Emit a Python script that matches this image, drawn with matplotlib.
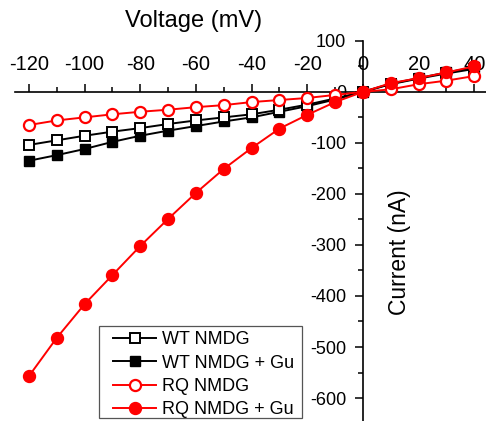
import matplotlib
matplotlib.use("Agg")
import matplotlib.pyplot as plt
from matplotlib.patches import Rectangle
from matplotlib.ticker import FixedLocator

plt.rcParams["font.family"] = ["Liberation Sans", "DejaVu Sans"]

# ── Data ────────────────────────────────────────────────────────────────────
voltage = [-120, -110, -100, -90, -80, -70, -60, -50, -40, -30, -20, -10, 0, 10, 20, 30, 40]
wt_nmdg = [-104, -95, -86, -78, -71, -63, -56, -50, -44, -35, -25, -13, 0, 15, 26, 36, 45]
wt_nmdg_gu = [-135, -124, -112, -98, -86, -76, -67, -58, -50, -39, -28, -15, 0, 16, 27, 38, 48]
rq_nmdg = [-65, -56, -50, -44, -39, -35, -30, -26, -20, -16, -12, -6, 0, 5, 15, 22, 31]
rq_nmdg_gu = [-557, -482, -416, -359, -302, -249, -198, -151, -110, -72, -45, -20, 0, 17, 27, 38, 50]

x_ticks = [-120, -100, -80, -60, -40, -20, 0, 20, 40]
x_minor = [-110, -90, -70, -50, -30, -10, 10, 30]
y_ticks = [100, 0, -100, -200, -300, -400, -500, -600]
y_minor = [50, -50, -150, -250, -350, -450, -550]

W, H = 486, 421
fig = plt.figure(figsize=(W / 100, H / 100), dpi=100)
ax = fig.add_axes([0, 0, 1, 1])
ax.set_xlim(-130.4, 44.2)
ax.set_ylim(-645, 180)

lw = 1.4
ax.plot(voltage, wt_nmdg_gu, color="black", lw=lw, marker="s", ms=7.5,
        mfc="black", mec="black", label="WT NMDG + Gu", zorder=3)
ax.plot(voltage, wt_nmdg, color="black", lw=lw, marker="s", ms=7.5,
        mfc="white", mec="black", mew=1.4, label="WT NMDG", zorder=4)
ax.plot(voltage, rq_nmdg, color="red", lw=lw, marker="o", ms=8,
        mfc="white", mec="red", mew=1.6, label="RQ NMDG", zorder=5)
ax.plot(voltage, rq_nmdg_gu, color="red", lw=lw, marker="o", ms=8.6,
        mfc="red", mec="red", label="RQ NMDG + Gu", zorder=6)

# axes crossing at the origin
for s in ["bottom", "right"]:
    ax.spines[s].set_visible(False)
ax.spines["top"].set_position(("data", 0))
ax.spines["left"].set_position(("data", 0))
ax.spines["top"].set_bounds(-125, 45)
ax.spines["left"].set_bounds(-645, 100)
for s in ["top", "left"]:
    ax.spines[s].set_linewidth(1.2)
    ax.spines[s].set_zorder(2)

ax.xaxis.set_ticks_position("top")
ax.set_xticks(x_ticks)
ax.set_xticklabels([str(v) for v in x_ticks])
ax.xaxis.set_minor_locator(FixedLocator(x_minor))
ax.set_yticks(y_ticks)
ax.set_yticklabels([str(v) for v in y_ticks])
ax.yaxis.set_minor_locator(FixedLocator(y_minor))
ax.tick_params(axis="x", which="major", direction="out", length=6, width=1.1,
               pad=7, labelsize=14.5)
ax.tick_params(axis="x", which="minor", direction="out", length=3.5, width=1.1)
ax.tick_params(axis="y", which="major", direction="out", length=6, width=1.1,
               pad=6, labelsize=13)
ax.tick_params(axis="y", which="minor", direction="out", length=3.5, width=1.1)

fig.text(194 / W, 1 - 21 / H, "Voltage (mV)", ha="center", va="center", fontsize=17)
fig.text(399 / W, 1 - 252 / H, "Current (nA)", ha="center", va="center",
         rotation=90, fontsize=16.5)

# legend: box drawn separately so the padding matches the original
box = Rectangle((99 / W, 3 / H), 203 / W, 92 / H, transform=fig.transFigure,
                facecolor="white", edgecolor="#555555", lw=0.9, zorder=9,
                clip_on=False)
ax.add_patch(box)
handles, labels = ax.get_legend_handles_labels()
order = [1, 0, 2, 3]
leg = ax.legend([handles[i] for i in order], [labels[i] for i in order],
                loc="upper left", bbox_to_anchor=(113 / W, 1 - 331 / H),
                bbox_transform=fig.transFigure, fontsize=13, frameon=False,
                borderpad=0, labelspacing=0.36, handlelength=2.4,
                handletextpad=0.3, borderaxespad=0)
leg.set_zorder(10)

fig.savefig("out.png", dpi=100)
